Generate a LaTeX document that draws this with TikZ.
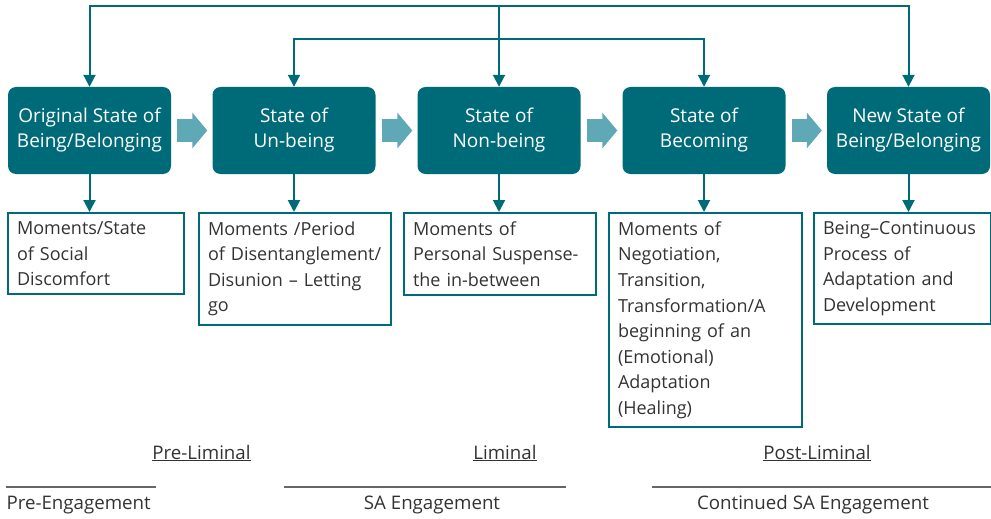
\documentclass[tikz,border=0pt]{standalone}
\usepackage{fontspec}
\setmainfont{Open Sans}
\usepackage{tikz}
\usetikzlibrary{arrows.meta, positioning}

\definecolor{teal}{HTML}{006B78}
\definecolor{lightteal}{HTML}{5FA8B5}
\definecolor{txt}{HTML}{333333}

\tikzset{
  statebox/.style={rounded corners=8pt, fill=teal, text=white, align=center,
    minimum width=163pt, minimum height=87pt, inner sep=0pt,
    font=\fontsize{19}{25}\selectfont},
  momentbox/.style={draw=teal, line width=2pt, anchor=north west, align=left,
    text=txt, inner xsep=9pt, inner ysep=8.5pt,
    font=\fontsize{18}{25.6}\selectfont},
  flow/.style={draw=teal, line width=2pt, -{Triangle[width=12pt,length=12pt]}},
  bigarrow/.style={draw=lightteal, line width=23pt,
    -{Triangle[width=35pt,length=15pt]}, shorten <=6pt, shorten >=5pt},
  phase/.style={text=txt, font=\fontsize{18.7}{22}\selectfont},
  rule/.style={draw=black!60, line width=1.5pt}
}

\begin{document}
\begin{tikzpicture}[x=1pt, y=-1pt]
        \useasboundingbox (0,0) rectangle (991,519);

        % states
        \node[statebox] (s1) at (89.5,130.5) {Original State of\\Being/Belonging};
        \node[statebox] (s2) at (294,130.5) {State of\\Un-being};
        \node[statebox] (s3) at (499,130.5) {State of\\Non-being};
        \node[statebox] (s4) at (704,130.5) {State of\\Becoming};
        \node[statebox] (s5) at (908.5,130.5) {New State of\\Being/Belonging};

        % moments
        \node[momentbox, text width=158pt] (m1) at (7,212) {Moments/State\\of Social\\Discomfort};
        \node[momentbox, text width=174pt] (m2) at (198,212) {Moments~/Period\\of~Disentanglement/\\Disunion~--~Letting\\go};
        \node[momentbox, text width=174pt] (m3) at (403,212) {Moments of\\Personal~Suspense-\\the in-between};
        \node[momentbox, text width=175pt] (m4) at (608,212) {Moments of\\Negotiation,\\Transition,\\Transformation/A\\beginning of an\\(Emotional)\\Adaptation\\(Healing)};
        \node[momentbox, text width=159pt] (m5) at (813,212) {Being--Continuous\\Process of\\Adaptation and\\Development};

        % top feedback lines
        \coordinate (t1) at (499,6);
        \coordinate (t2) at (499,39);
        \draw[flow] (t1) -| (s1.north);
        \draw[flow] (t1) -| (s5.north);
        \draw[flow] (t1) -- (s3.north);
        \draw[flow] (t2) -| (s2.north);
        \draw[flow] (t2) -| (s4.north);

        % block arrows
        \draw[bigarrow] (s1) -- (s2);
        \draw[bigarrow] (s2) -- (s3);
        \draw[bigarrow] (s3) -- (s4);
        \draw[bigarrow] (s4) -- (s5);

        % down arrows
        \foreach \i in {1,...,5}
          \draw[flow] (s\i.south) -- (s\i.south |- m\i.north);

        % phases
        \node[phase] (pre) at (201.5,453) {\underline{Pre-Liminal}};
        \node[phase] (lim) at (505,453) {\underline{Liminal}};
        \node[phase] (post) at (817,453) {\underline{Post-Liminal}};

        \draw[rule] (6,487) -- (156,487);
        \draw[rule] (284,487) -- (566,487);
        \draw[rule] (652,487) -- (991,487);
        \node[phase, anchor=west] (eng1) at (3,505) {Pre-Engagement};
        \node[phase] (eng2) at (432,505) {SA Engagement};
        \node[phase] (eng3) at (813,505) {Continued SA Engagement};
    \end{tikzpicture}
\end{document}
